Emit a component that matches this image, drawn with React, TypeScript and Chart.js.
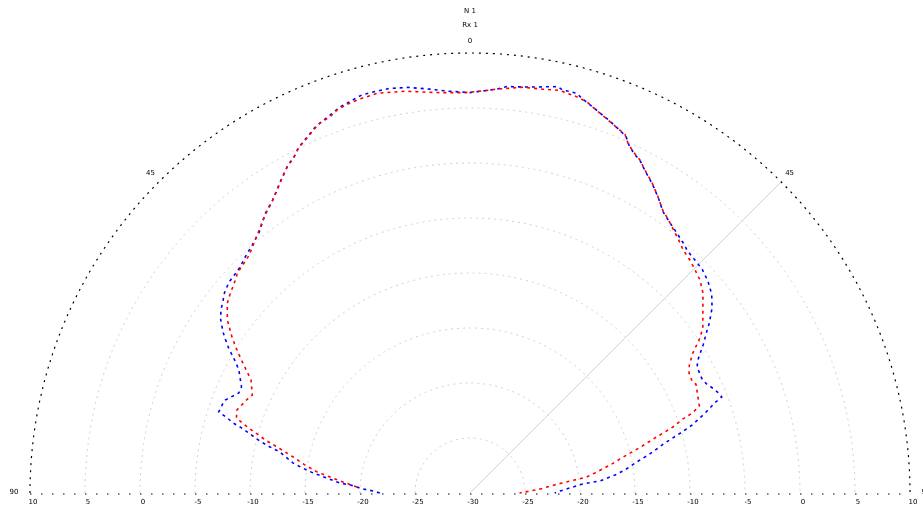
import React, { useEffect, useRef } from "react";
import { Chart, registerables } from "chart.js";

Chart.register(...registerables);

// Radial scale (dB): centre value and outer value
const R_MIN = -30;
const R_MAX = 10;
const ringValues = [-25, -20, -15, -10, -5, 0, 5];
const ringLabels = ["10", "5", "0", "-5", "-10", "-15", "-20", "-25", "-30"];
const angleLabels = ["90", "45", "0", "45", "90"];
const titleLines = ["N 1", "Rx 1"];

// Series: angle (deg, 0 = up, positive = right) and value (dB)
const redAngles = [
  -87.0, -85.0, -83.5, -82.2, -80.4, -78.5, -76.6, -75.6, -74.1, -73.5, -72.2, -70.4,
  -66.7, -65.8, -62.7, -60.2, -58.9, -56.9, -54.5, -52.0, -50.5, -47.8, -46.6, -42.9,
  -39.2, -36.4, -34.2, -31.4, -29.3, -27.8, -26.5, -24.7, -23.1, -22.1, -20.4, -19.0,
  -17.1, -15.5, -13.0, -9.2, -4.3, -0.7, 2.1, 3.8, 7.4, 10.2, 12.6, 15.1, 16.7, 17.7,
  19.7, 21.9, 23.4, 24.3, 25.5, 27.0, 28.4, 30.4, 32.4, 34.3, 36.0, 37.5, 39.2, 41.2,
  43.5, 45.9, 47.2, 49.4, 51.9, 54.5, 55.9, 57.9, 59.7, 61.3, 63.4, 64.3, 69.2, 70.2,
  70.8, 72.0, 73.3, 74.9, 76.8, 78.7, 80.9, 82.2, 82.9, 84.2, 86.7, 88.1, 90.0,
];
const redValues = [
  -19.7, -18.4, -17.2, -16.0, -14.8, -13.6, -12.0, -10.9, -9.5, -8.9, -7.7, -7.5,
  -8.1, -8.3, -7.6, -6.2, -5.4, -4.2, -2.9, -2.0, -1.7, -1.2, -0.9, -0.5,
  0.5, 1.4, 2.0, 3.1, 4.0, 4.4, 5.0, 5.5, 6.0, 6.3, 6.5, 6.9,
  7.1, 7.2, 7.3, 7.0, 6.5, 6.4, 6.6, 6.8, 7.2, 7.3, 7.5, 7.3, 7.1, 6.8,
  6.3, 5.8, 5.5, 4.9, 4.4, 4.0, 3.4, 2.7, 1.9, 1.1, 0.7, 0.3, -0.1, -0.6,
  -0.9, -1.3, -1.5, -2.1, -3.1, -4.0, -4.7, -6.1, -6.9, -7.3, -7.4, -7.2, -7.7, -8.5,
  -9.5, -10.6, -12.3, -13.9, -15.7, -17.0, -18.5, -19.3, -20.4, -22.0, -23.6, -24.5, -25.5,
];

const blueAngles = [
  -90.0, -88.8, -87.9, -86.2, -85.6, -84.0, -82.7, -81.5, -80.4, -77.8, -77.0, -76.1,
  -75.3, -74.1, -73.5, -72.8, -72.1, -70.2, -69.2, -66.6, -65.1, -62.0, -60.8, -59.9,
  -59.0, -57.8, -56.9, -55.2, -53.7, -52.3, -50.8, -48.9, -45.5, -43.8, -41.3, -38.9,
  -36.2, -34.0, -31.2, -29.0, -27.6, -26.3, -24.5, -23.0, -21.5, -20.0, -18.8, -15.2,
  -14.4, -13.0, -11.3, -8.7, -5.7, -3.3, 0.0, 2.1, 3.8, 5.2, 8.4, 12.2, 12.9, 13.8,
  15.0, 15.8, 17.7, 20.3, 21.9, 23.6, 24.5, 25.7, 27.2, 28.6, 30.6, 32.6, 34.5, 36.3,
  38.5, 40.9, 41.8, 44.6, 46.1, 48.1, 49.5, 50.7, 52.6, 54.6, 55.8, 57.6, 58.9, 59.7,
  61.0, 64.1, 65.3, 66.5, 67.8, 69.1, 69.8, 71.2, 73.0, 74.1, 75.6, 77.8, 79.5, 81.6,
  82.9, 84.7, 85.4, 87.1, 88.7, 90.0,
];
const blueValues = [
  -21.8, -21.2, -20.3, -19.1, -18.1, -16.9, -15.6, -14.6, -13.7, -12.3, -11.3, -10.3,
  -9.6, -8.4, -7.5, -6.9, -6.0, -6.1, -6.2, -7.1, -7.1, -6.2, -5.6, -5.0,
  -4.4, -3.7, -3.2, -2.4, -1.9, -1.6, -1.2, -0.9, -0.7, -0.4, 0.0, 0.5,
  1.5, 2.1, 3.2, 4.1, 4.5, 5.1, 5.6, 6.1, 6.4, 6.7, 7.0, 7.5,
  7.5, 7.5, 7.5, 7.3, 6.9, 6.6, 6.4, 6.6, 6.8, 7.1, 7.3, 7.8, 7.6, 7.6,
  7.6, 7.3, 6.8, 6.2, 5.8, 5.4, 4.8, 4.3, 3.9, 3.3, 2.6, 1.8, 1.0, 0.6,
  0.2, -0.2, -0.4, -0.6, -0.7, -1.0, -1.3, -1.6, -2.3, -3.3, -4.0, -4.9, -5.6, -6.0,
  -6.4, -6.5, -6.3, -6.0, -5.7, -5.5, -6.3, -7.4, -8.9, -10.1, -11.7, -13.3, -14.6, -15.8,
  -16.7, -18.1, -19.7, -20.9, -21.8, -22.3,
];

const toXY = (angles: number[], values: number[]) =>
  angles.map((a, i) => {
    const r = values[i] - R_MIN;
    const t = (a * Math.PI) / 180;
    return { x: r * Math.sin(t), y: r * Math.cos(t) };
  });

const polarGrid = {
  id: "polarGrid",
  beforeDatasetsDraw(chart: any) {
    const { ctx, scales } = chart;
    const xs = scales.x;
    const ys = scales.y;
    const cx = xs.getPixelForValue(0);
    const cy = ys.getPixelForValue(0);
    const ppu = xs.getPixelForValue(1) - cx;
    const R = (R_MAX - R_MIN) * ppu;
    ctx.save();
    // grey rings
    ctx.strokeStyle = "#cfcfc6";
    ctx.lineWidth = 1;
    ctx.setLineDash([2, 4]);
    ringValues.forEach((v) => {
      const r = (v - R_MIN) * ppu;
      ctx.beginPath();
      ctx.arc(cx, cy, r, Math.PI, 2 * Math.PI);
      ctx.stroke();
    });
    // diagonal spoke at 45 deg
    ctx.strokeStyle = "#d6d6ce";
    ctx.setLineDash([]);
    ctx.beginPath();
    ctx.moveTo(cx, cy);
    ctx.lineTo(cx + R * Math.sin(Math.PI / 4), cy - R * Math.cos(Math.PI / 4));
    ctx.stroke();
    // outer black ring
    ctx.strokeStyle = "#000000";
    ctx.lineWidth = 1.2;
    ctx.setLineDash([2, 5]);
    ctx.beginPath();
    ctx.arc(cx, cy, R, Math.PI, 2 * Math.PI);
    ctx.stroke();
    // baseline
    ctx.lineWidth = 1.2;
    ctx.setLineDash([1.5, 9.5]);
    ctx.beginPath();
    ctx.moveTo(cx - R, cy + 1);
    ctx.lineTo(cx + R, cy + 1);
    ctx.stroke();
    ctx.setLineDash([]);
    // texts
    ctx.fillStyle = "#000000";
    ctx.font = "7px 'DejaVu Sans', sans-serif";
    ctx.textAlign = "center";
    ctx.textBaseline = "middle";
    const n = ringLabels.length;
    ringLabels.forEach((lab, i) => {
      const v = R_MAX - i * 5;
      const r = (v - R_MIN) * ppu;
      ctx.fillText(lab, cx - r + 3, cy + 9);
      if (i < n - 1) ctx.fillText(lab, cx + r + 3, cy + 9);
    });
    // angle labels
    const angles = [-90, -45, 0, 45, 90];
    angles.forEach((a, i) => {
      const t = (a * Math.PI) / 180;
      const rr = R + (Math.abs(a) === 90 ? 16 : 12);
      const px = cx + rr * Math.sin(t);
      const py = cy - rr * Math.cos(t) - (Math.abs(a) === 90 ? 1 : 0);
      ctx.fillText(angleLabels[i], px, py);
    });
    titleLines.forEach((line, i) => {
      ctx.fillText(line, cx, 11 + i * 14);
    });
    ctx.restore();
  },
};

export default function App() {
  const ref = useRef<HTMLCanvasElement | null>(null);
  useEffect(() => {
    if (!ref.current) return;
    const chart = new Chart(ref.current, {
      type: "scatter",
      data: {
        datasets: [
          {
            label: "red",
            data: toXY(redAngles, redValues),
            showLine: true,
            borderColor: "#ff0000",
            backgroundColor: "#ff0000",
            borderWidth: 1.6,
            borderDash: [3, 4],
            pointRadius: 0,
            clip: false,
          },
          {
            label: "blue",
            data: toXY(blueAngles, blueValues),
            showLine: true,
            borderColor: "#0000ff",
            backgroundColor: "#0000ff",
            borderWidth: 1.6,
            borderDash: [3, 4],
            pointRadius: 0,
            clip: false,
          },
        ],
      },
      options: {
        animation: false,
        responsive: false,
        maintainAspectRatio: false,
        layout: { padding: { left: 30, right: 13, top: 53, bottom: 18 } },
        scales: {
          x: { type: "linear", min: -(R_MAX - R_MIN), max: R_MAX - R_MIN, display: false },
          y: { type: "linear", min: 0, max: R_MAX - R_MIN, display: false },
        },
        plugins: { legend: { display: false }, tooltip: { enabled: false } },
      },
      plugins: [polarGrid],
    });
    return () => chart.destroy();
  }, []);
  return (
    <div style={{ position: "absolute", left: 0, top: 0, width: 923, height: 511, background: "#fff" }}>
      <canvas ref={ref} width={923} height={511} style={{ width: 923, height: 511 }} />
    </div>
  );
}
